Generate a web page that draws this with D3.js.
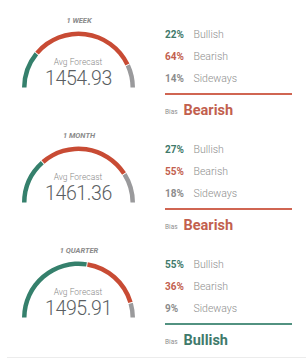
<!DOCTYPE html>
<html>
  <head>
    <script src="https://d3js.org/d3.v7.min.js"></script>
    <style>
      body, html { margin: 0; padding: 0; background: #fff; overflow: hidden; }
      * { font-family: "Roboto", sans-serif; }
    </style>
    <title>forecast gauges</title>
  </head>
  <body>
    <svg id="gauges"></svg>
    <script>
      // data
      var horizons = ["1 WEEK", "1 MONTH", "1 QUARTER"];
      var avgForecast = [1454.93, 1461.36, 1495.91];
      var bullish = [22, 27, 55];
      var bearish = [64, 55, 36];
      var sideways = [14, 18, 9];
      var bias = ["Bearish", "Bearish", "Bullish"];
      var labels = ["Bullish", "Bearish", "Sideways"];

      var width = 306, height = 360;
      var colors = { Bullish: "#35806c", Bearish: "#c84b34", Sideways: "#9a9a9c" };
      var textColors = { Bullish: "#3f7a6b", Bearish: "#c2604e", Sideways: "#8c8c8c" };

      var svg = d3.select("#gauges").attr("width", width).attr("height", height);

      var yPanel = d3.scaleBand().domain(horizons).range([0, 345]);
      var angle = d3.scaleLinear().domain([0, 100]).range([-Math.PI / 2, Math.PI / 2]);
      var arc = d3.arc().innerRadius(52).outerRadius(56.5).padAngle(0.012);

      horizons.forEach(function (h, i) {
        var g = svg.append("g").attr("transform", "translate(0," + yPanel(h) + ")");
        var shares = [bullish[i], bearish[i], sideways[i]];
        var cum = 0;
        var segs = shares.map(function (v, k) {
          var s = { start: cum, end: cum + v, name: labels[k] };
          cum += v;
          return s;
        });

        var gauge = g.append("g").attr("transform", "translate(78.5,88)");
        gauge.selectAll("path")
          .data(segs)
          .enter()
          .append("path")
          .attr("d", function (d) {
            return arc({ startAngle: angle(d.start), endAngle: angle(d.end) });
          })
          .style("fill", function (d) { return colors[d.name]; });

        g.append("text")
          .attr("x", 79).attr("y", 22.5)
          .attr("text-anchor", "middle")
          .style("font-size", "7.5px").style("font-style", "italic").style("font-weight", "bold")
          .style("fill", "#8a8a8a")
          .text(h);

        g.append("text")
          .attr("x", 78).attr("y", 65)
          .attr("text-anchor", "middle")
          .style("font-size", "8.5px").style("font-weight", "300")
          .style("fill", "#8a8a8a")
          .text("Avg Forecast");

        g.append("text")
          .attr("x", 78.5).attr("y", 85)
          .attr("text-anchor", "middle")
          .style("font-size", "19.5px").style("font-weight", "300")
          .style("letter-spacing", "-0.4px")
          .style("fill", "#5a5e62")
          .text(d3.format(".2f")(avgForecast[i]));

        var yRow = d3.scalePoint().domain(labels).range([37.5, 81.5]);
        var rows = g.selectAll(".row")
          .data(segs)
          .enter()
          .append("g")
          .attr("transform", function (d) { return "translate(165," + yRow(d.name) + ")"; });
        rows.append("text")
          .style("font-size", "10px").style("font-weight", "bold")
          .style("fill", function (d) { return textColors[d.name]; })
          .text(function (d) { return (d.end - d.start) + "%"; });
        rows.append("text")
          .attr("x", 28.5)
          .style("font-size", "10.5px").style("font-weight", "300")
          .style("fill", "#8e8e8e")
          .text(function (d) { return d.name; });

        g.append("line")
          .attr("x1", 165).attr("x2", 292)
          .attr("y1", 94).attr("y2", 94)
          .style("stroke", colors[bias[i]])
          .style("stroke-width", "2px")
          .style("opacity", 0.85);

        g.append("text")
          .attr("x", 165).attr("y", 114)
          .style("font-size", "6.5px")
          .style("fill", "#8e8e8e")
          .text("Bias");
        g.append("text")
          .attr("x", 183.5).attr("y", 115)
          .style("font-size", "14.5px").style("font-weight", "bold")
          .style("fill", textColors[bias[i]])
          .text(bias[i]);
      });

      svg.append("line")
        .attr("x1", 7).attr("x2", width)
        .attr("y1", 357.5).attr("y2", 357.5)
        .style("stroke", "#ececec")
        .style("stroke-width", "1px");
    </script>
  </body>
</html>
